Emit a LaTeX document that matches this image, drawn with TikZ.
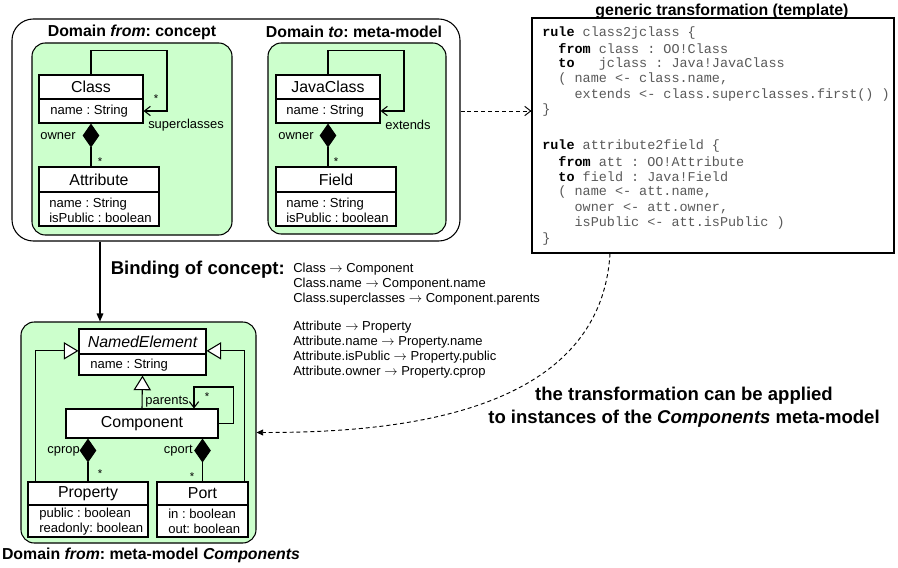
\documentclass[tikz,border=0pt]{standalone}
\usepackage{fontspec}
\setmainfont{Liberation Sans}
\newfontfamily\codefont{Liberation Mono}
\usetikzlibrary{arrows.meta}
\definecolor{pale}{HTML}{CCFFCC}
\definecolor{codegray}{HTML}{5A5A5A}
\newcommand\kwd[1]{\textcolor{black}{\bfseries #1}}
\newcommand\arr{\ensuremath{\rightarrow}}
\tikzset{
  box/.style={draw=black, line width=0.8pt, fill=white, inner sep=0pt},
  dom/.style={draw=black, line width=0.8pt, fill=pale, rounded corners=10pt, inner sep=0pt},
  outerbox/.style={draw=black, line width=0.8pt, fill=white, rounded corners=16pt, inner sep=0pt},
  cname/.style={font=\fontsize{11.9}{14}\selectfont},
  cnamei/.style={font=\itshape\fontsize{11.9}{14}\selectfont},
  attr/.style={font=\fontsize{9.8}{11.2}\selectfont, anchor=west, inner sep=0pt, align=left},
  lbl/.style={font=\fontsize{9.7}{12}\selectfont, inner sep=0pt},
  mult/.style={font=\fontsize{8.5}{10}\selectfont, inner sep=0pt},
  bind/.style={font=\fontsize{9.75}{12}\selectfont, anchor=west, inner sep=0pt},
  codeln/.style={font=\codefont\fontsize{10.1}{12}\selectfont, text=codegray, anchor=west, inner sep=0pt},
  ttl/.style={font=\bfseries\fontsize{11.9}{14}\selectfont, inner sep=0pt},
  big/.style={font=\bfseries\fontsize{13.9}{17}\selectfont, inner sep=0pt},
  conn/.style={line width=0.8pt},
  nav/.style={conn, -{Straight Barb[length=4.5pt, width=7pt, line width=0.8pt]}},
  compo/.style={conn, {Diamond[length=18pt, width=12.5pt]}-},
  gen/.style={conn, -{Triangle[open, fill=white, length=11pt, width=13pt, line width=0.8pt]}},
  dasharrow/.style={line width=0.7pt, dash pattern=on 3pt off 2.2pt},
}
\begin{document}
\frenchspacing
\begin{tikzpicture}[x=0.75pt, y=-0.75pt]
\useasboundingbox (0,0) rectangle (898,567);

% ---------- top: outer frame and the two domains ----------
\node[outerbox, minimum width=336pt, minimum height=166.5pt] (outer) at (236,130) {};
\node[dom, minimum width=150pt, minimum height=144pt] (domfrom) at (132,139) {};
\node[dom, minimum width=133.5pt, minimum height=143.25pt] (domto) at (357,138.5) {};
\node[ttl] (tfrom) at (132,32) {Domain \textit{from}: concept};
\node[ttl] (tto) at (354,32) {Domain \textit{to}: meta-model};

% Class
\node[box, cname, minimum width=78pt, minimum height=18pt] (classH) at (91,87) {Class};
\node[box, minimum width=78pt, minimum height=18pt] (classA) at (91,111) {};
\node[attr] (classAt) at (50,111) {name : String};
% Attribute
\node[box, cname, minimum width=90pt, minimum height=18.75pt] (attH) at (99,179.5) {Attribute};
\node[box, minimum width=90pt, minimum height=25.5pt] (attA) at (99,209) {};
\node[attr] (attAt) at (49,210) {name : String\\isPublic : boolean};

% JavaClass
\node[box, cname, minimum width=78pt, minimum height=18pt] (jcH) at (328,87) {JavaClass};
\node[box, minimum width=78pt, minimum height=18pt] (jcA) at (328,111) {};
\node[attr] (jcAt) at (286,111) {name : String};
% Field
\node[box, cname, minimum width=90pt, minimum height=18.75pt] (fH) at (336,179.5) {Field};
\node[box, minimum width=90pt, minimum height=25.5pt] (fA) at (336,209) {};
\node[attr] (fAt) at (286,210) {name : String\\isPublic : boolean};

% associations top-left
\draw[nav] (classH.north) -- ++(0,-24) -- ++(76,0) |- (classA.east);
\node[mult] (m1) at (156,99) {*};
\node[lbl] (lsup) at (186,125) {superclasses};
\draw[compo] (classA.south) -- (classA.south |- attH.north);
\node[lbl] (lown1) at (58,136) {owner};
\node[mult] (m2) at (100,162) {*};

% associations top-right
\draw[nav] (jcH.north) -- ++(0,-24) -- ++(76,0) |- (jcA.east);
\node[lbl] (lext) at (408,125) {extends};
\draw[compo] (jcA.south) -- (jcA.south |- fH.north);
\node[lbl] (lown2) at (296,136) {owner};
\node[mult] (m3) at (336,162) {*};

% ---------- code box ----------
\node[box, minimum width=271.5pt, minimum height=176.25pt] (code) at (713,135.5) {};
\node[ttl] (tcode) at (722,11) {generic transformation (template)};
\node[codeln] (c1) at (542,33) {\kwd{rule} class2jclass \{};
\node[codeln] (c2) at (542,48.5) {~~\kwd{from} class : OO!Class};
\node[codeln] (c3) at (542,64) {~~\kwd{to}~~~jclass : Java!JavaClass};
\node[codeln] (c4) at (542,79.5) {~~( name <- class.name,};
\node[codeln] (c5) at (542,95) {~~~~extends <- class.superclasses.first() )};
\node[codeln] (c6) at (542,110.5) {\}};
\node[codeln] (c7) at (542,146) {\kwd{rule} attribute2field \{};
\node[codeln] (c8) at (542,161.5) {~~\kwd{from} att : OO!Attribute};
\node[codeln] (c9) at (542,177) {~~\kwd{to} field : Java!Field};
\node[codeln] (c10) at (542,192.5) {~~( name <- att.name,};
\node[codeln] (c11) at (542,208) {~~~~owner <- att.owner,};
\node[codeln] (c12) at (542,223.5) {~~~~isPublic <- att.isPublic )};
\node[codeln] (c13) at (542,239) {\}};

\draw[dasharrow, -{Straight Barb[length=4.5pt, width=7pt, line width=0.7pt]}]
  ([yshift=14.25pt]outer.east) -- ([yshift=14.25pt]outer.east -| code.west);

% ---------- bottom: Components meta-model ----------
\node[dom, minimum width=176.25pt, minimum height=165.75pt] (bot) at (138.5,432.5) {};
\node[ttl] (tbot) at (151,555) {Domain \textit{from}: meta-model \textit{Components}};

\node[box, cnamei, minimum width=95.25pt, minimum height=18.75pt] (neH) at (142.5,341.5) {NamedElement};
\node[box, minimum width=95.25pt, minimum height=15.75pt] (neA) at (142.5,364.5) {};
\node[attr] (neAt) at (90,365) {name : String};

\node[box, cname, minimum width=114pt, minimum height=21.75pt] (comp) at (142,423.5) {Component};

\node[box, cname, minimum width=90pt, minimum height=17.25pt] (pH) at (88,493.5) {Property};
\node[box, minimum width=90pt, minimum height=24pt] (pA) at (88,521) {};
\node[attr] (pAt) at (39,521.5) {public : boolean\\readonly: boolean};

\node[box, cname, minimum width=68.25pt, minimum height=17.25pt] (ptH) at (202.5,493.5) {Port};
\node[box, minimum width=68.25pt, minimum height=24pt] (ptA) at (202.5,521) {};
\node[attr] (ptAt) at (168,521.5) {in : boolean\\out: boolean};

\draw[gen] (comp.north) -- (neA.south);
\draw[gen] ([xshift=6pt]pH.north west) |- ([yshift=-7pt]neH.west);
\draw[gen] ([xshift=-3pt]ptH.north east) |- ([yshift=-7pt]neH.east);
\draw[nav] (comp.east) -- ++(15,0) -- ++(0,-36.5) -| ([xshift=39pt]comp.north);
\node[lbl] (lpar) at (167,402) {parents};
\node[mult] (m4) at (207,397) {*};
\draw[compo] (comp.south -| pH.north) -- (pH.north);
\draw[compo] (comp.south -| ptH.north) -- (ptH.north);
\node[lbl, anchor=east] (lcprop) at (80,451) {cprop};
\node[lbl, anchor=east] (lcport) at (193,451) {cport};
\node[mult] (m5) at (100,474) {*};
\node[mult] (m6) at (192,477) {*};

% binding arrow and text
\draw[conn, -{Triangle[length=6pt, width=5pt]}] ([xshift=-28.875pt]bot.north |- outer.south) -- ([xshift=-28.875pt]bot.north);
\node[big, anchor=east] (tbind) at (285,270) {Binding of concept:};
\node[bind] (b1) at (293,269) {Class \arr{} Component};
\node[bind] (b2) at (293,284) {Class.name \arr{} Component.name};
\node[bind] (b3) at (293,299) {Class.superclasses \arr{} Component.parents};
\node[bind] (b4) at (293,327) {Attribute \arr{} Property};
\node[bind] (b5) at (293,342) {Attribute.name \arr{} Property.name};
\node[bind] (b6) at (293,357) {Attribute.isPublic \arr{} Property.public};
\node[bind] (b7) at (293,372) {Attribute.owner \arr{} Property.cprop};

% applied transformation
\draw[dasharrow, -{Triangle[length=5pt, width=4.5pt]}]
  ([xshift=-77.25pt]code.south) .. controls +(-10,167) and +(124,0) .. (bot.east);
\node[big] (tapp1) at (684,396) {the transformation can be applied};
\node[big] (tapp2) at (684,419) {to instances of the \textit{Components} meta-model};
\end{tikzpicture}
\end{document}
